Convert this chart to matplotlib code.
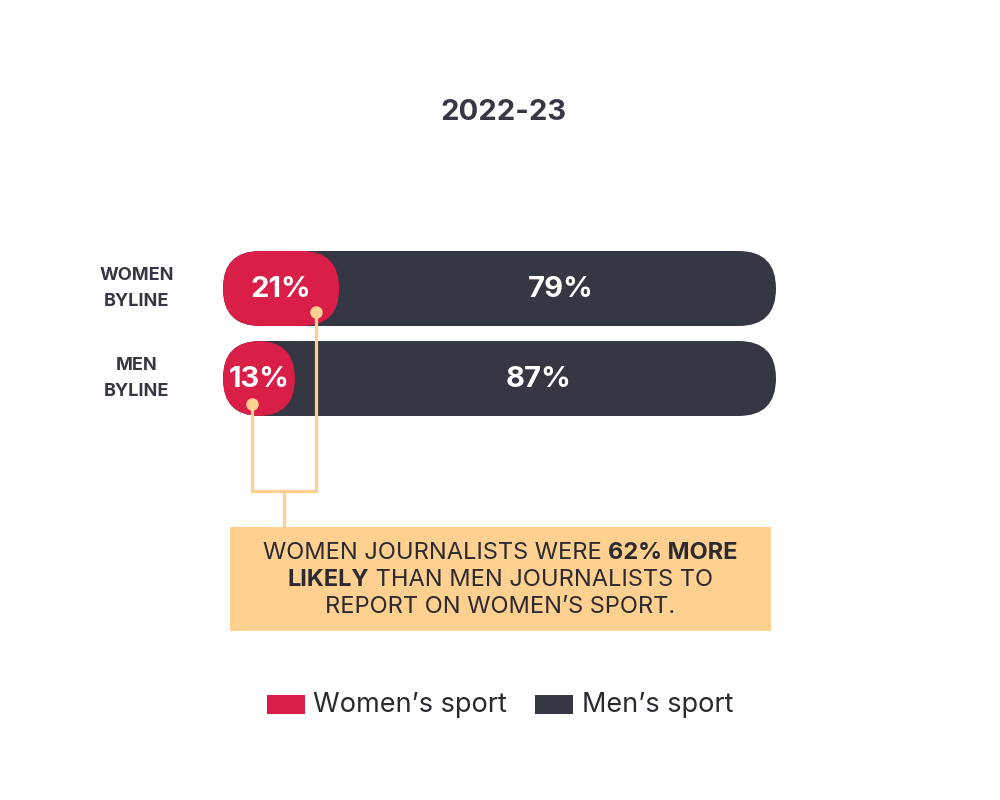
import matplotlib
matplotlib.use("Agg")
import matplotlib.pyplot as plt
from matplotlib.patches import FancyBboxPatch, Rectangle
from matplotlib.lines import Line2D

# ---------------- data ----------------
title = "2022-23"
categories = ["WOMEN\nBYLINE", "MEN\nBYLINE"]
womens_sport = [21, 13]
mens_sport = [79, 87]
series_names = ["Women\u2019s sport", "Men\u2019s sport"]
note_normal_1 = "WOMEN JOURNALISTS WERE "
note_bold_1 = "62% MORE"
note_bold_2 = "LIKELY"
note_normal_2 = " THAN MEN JOURNALISTS TO"
note_line_3 = "REPORT ON WOMEN\u2019S SPORT."

# ---------------- style ----------------
RED = "#D91E48"
DARK = "#353743"
PEACH = "#FFD08F"
TEXT = "#2A2A30"
FONT = ["Inter", "DejaVu Sans"]
plt.rcParams["font.family"] = FONT

W, H = 1000, 800
fig = plt.figure(figsize=(10, 8), dpi=100)
fig.patch.set_facecolor("white")

# bar axes: x = percent, y = category index
x0_px, x1_px = 223, 776
y_top_px, y_bot_px = 198.5, 468.5
ax = fig.add_axes([x0_px / W, 1 - y_bot_px / H, (x1_px - x0_px) / W, (y_bot_px - y_top_px) / H])
ax.set_xlim(0, 100)
ax.set_ylim(2, -1)
ax.axis("off")
ax.set_zorder(1)

# overlay axes in pixel coordinates for decorations (on top)
ov = fig.add_axes([0, 0, 1, 1])
ov.set_xlim(0, W)
ov.set_ylim(H, 0)
ov.axis("off")
ov.set_zorder(2)
ov.patch.set_alpha(0)

px_per_x = (x1_px - x0_px) / 100.0
px_per_y = (y_bot_px - y_top_px) / 3.0
bar_h = 75 / px_per_y
radius_x = (75 / 2) / px_per_x
aspect = px_per_x / px_per_y

for i, (w_val, m_val) in enumerate(zip(womens_sport, mens_sport)):
    total = w_val + m_val
    ax.add_patch(FancyBboxPatch((0, i - bar_h / 2), total, bar_h,
                                boxstyle=f"round,pad=0,rounding_size={radius_x}",
                                mutation_aspect=aspect, fc=DARK, ec="none", zorder=2))
    ax.add_patch(FancyBboxPatch((0, i - bar_h / 2), w_val, bar_h,
                                boxstyle=f"round,pad=0,rounding_size={radius_x}",
                                mutation_aspect=aspect, fc=RED, ec="none", zorder=3))
    ax.text(w_val / 2, i + 0.01, f"{w_val}%", ha="center", va="center", color="white",
            fontsize=21, fontweight="bold", zorder=4)
    ax.text(w_val + m_val / 2 + 0.5, i + 0.01, f"{m_val}%", ha="center", va="center",
            color="white", fontsize=21, fontweight="bold", zorder=4)
    ax.text(-15.6, i, categories[i], ha="center", va="center", color=DARK,
            fontsize=13, fontweight="bold", linespacing=1.75, zorder=4)

# title
ov.text(503, 113, title, ha="center", va="center", fontsize=21, fontweight="bold", color=DARK)

def to_px(x, y):
    return x0_px + x * px_per_x, y_top_px + (y + 1) * px_per_y

d1 = to_px(womens_sport[0] - 4.2, 0 + 0.26)
d2 = to_px(womens_sport[1] - 7.8, 1 + 0.28)
y_join = 491
stem_x = (d1[0] + d2[0]) / 2
box_top, box_bot = 527, 631
lw = 2.3
for (dx, dy) in (d1, d2):
    ov.add_line(Line2D([dx, dx], [dy, y_join], color=PEACH, lw=lw, zorder=5))
    ov.plot([dx], [dy], "o", ms=8, color=PEACH, zorder=6)
ov.add_line(Line2D([d2[0], d1[0]], [y_join, y_join], color=PEACH, lw=lw, zorder=5,
                   solid_capstyle="projecting"))
ov.add_line(Line2D([stem_x, stem_x], [y_join, box_top], color=PEACH, lw=lw, zorder=5))
ov.add_patch(Rectangle((230, box_top), 541, box_bot - box_top, fc=PEACH, ec="none", zorder=4))

# note text with mixed weights
fig.canvas.draw()
renderer = fig.canvas.get_renderer()
fs = 17
cx = 500.5

def place_line(parts, y):
    txts = []
    for s, wgt in parts:
        t = ov.text(0, y, s, ha="left", va="center", fontsize=fs, fontweight=wgt,
                    color=TEXT, zorder=7)
        txts.append(t)
    widths = [t.get_window_extent(renderer=renderer).width for t in txts]
    x = cx - sum(widths) / 2
    for t, wdt in zip(txts, widths):
        t.set_x(x)
        x += wdt

place_line([(note_normal_1, "normal"), (note_bold_1, "bold")], 553)
place_line([(note_bold_2, "bold"), (note_normal_2, "normal")], 580)
place_line([(note_line_3, "normal")], 607)

# legend
ov.add_patch(Rectangle((267, 695), 38, 19, fc=RED, ec="none"))
ov.text(313, 705, series_names[0], ha="left", va="center", fontsize=19.5, color=TEXT)
ov.add_patch(Rectangle((535, 695), 38, 19, fc=DARK, ec="none"))
ov.text(582, 705, series_names[1], ha="left", va="center", fontsize=19.5, color=TEXT)

fig.savefig("out.png", dpi=100, facecolor="white")
